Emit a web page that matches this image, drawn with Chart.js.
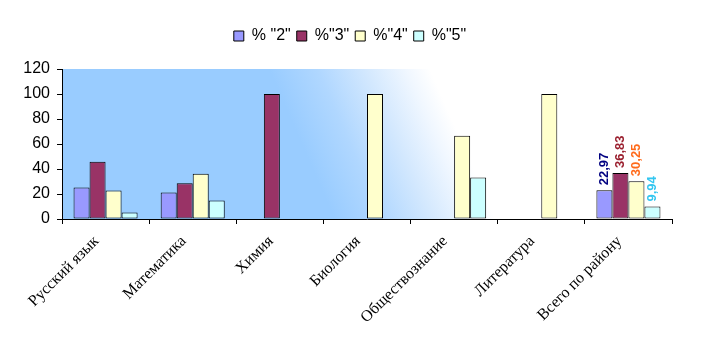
<!DOCTYPE html>
<html>
<head>
<meta charset="utf-8">
<script src="https://cdn.jsdelivr.net/npm/chart.js@4/dist/chart.umd.min.js"></script>
<style>
    html, body { margin: 0; padding: 0; background: #fff; }
    #wrap { width: 714px; height: 353px; }
</style>
</head>
<body>
<div id="wrap"><canvas id="grades_chart"></canvas></div>
<script>
// Предметы (категории)
const subjects = ["Русский язык", "Математика", "Химия", "Биология", "Обществознание", "Литература", "Всего по району"];
// Доли оценок, %
const grade2 = [25.2, 21.2, 0, 0, 0, 0, 22.97];
const grade3 = [45.8, 28.6, 100, 0, 0, 0, 36.83];
const grade4 = [22.8, 36.2, 0, 100, 66.7, 100, 30.25];
const grade5 = [5.3, 14.8, 0, 0, 33.3, 0, 9.94];
// подписи над столбцами последней категории
const totalLabels = ["22,97", "36,83", "30,25", "9,94"];
const yTicks = [0, 20, 40, 60, 80, 100, 120];

// фон области построения (градиент)
const plotBackground = {
    id: "plotBackground",
    beforeDraw(chart) {
        const { ctx, chartArea: a } = chart;
        const g = ctx.createLinearGradient(200, -89, 335, -148);
        g.addColorStop(0, "rgb(153,204,255)");
        g.addColorStop(0.3, "rgb(176,215,255)");
        g.addColorStop(0.6, "rgb(211,232,254)");
        g.addColorStop(0.85, "rgb(240,247,255)");
        g.addColorStop(1, "rgb(255,255,255)");
        ctx.save();
        ctx.fillStyle = g;
        ctx.fillRect(a.left, a.top, a.right - a.left, a.bottom - a.top);
        ctx.restore();
    },
};

// подписи значений (только "Всего по району")
const totalValues = {
    id: "totalValues",
    afterDatasetsDraw(chart) {
        const ctx = chart.ctx;
        const last = subjects.length - 1;
        ctx.save();
        ctx.font = "bold 13px 'Liberation Sans', Arial, sans-serif";
        ctx.textAlign = "left";
        ctx.textBaseline = "middle";
        chart.data.datasets.forEach((ds, i) => {
            const bar = chart.getDatasetMeta(i).data[last];
            ctx.save();
            ctx.translate(bar.x, bar.y - 5);
            ctx.rotate(-Math.PI / 2);
            ctx.fillStyle = ds.labelColor;
            ctx.fillText(totalLabels[i], 0, 0);
            ctx.restore();
        });
        ctx.restore();
    },
};

// отступ под легендой и сдвиг легенды вправо
const legendSpace = {
    id: "legendSpace",
    beforeInit(chart) {
        const fit = chart.legend.fit;
        chart.legend.fit = function () {
            fit.bind(chart.legend)();
            this.height += 15;
        };
        const draw = chart.legend.draw;
        chart.legend.draw = function () {
            chart.ctx.save();
            chart.ctx.translate(14, 0);
            draw.call(chart.legend);
            chart.ctx.restore();
        };
    },
};

var ctxGrades = document.getElementById("grades_chart").getContext("2d");
var gradesChart = new Chart(ctxGrades, {
    type: "bar",
    data: {
        labels: subjects,
        datasets: [
            { label: '% "2"', data: grade2, backgroundColor: "#9999FF", labelColor: "#000080" },
            { label: '%"3"', data: grade3, backgroundColor: "#993366", labelColor: "#9A1F2E" },
            { label: '%"4"', data: grade4, backgroundColor: "#FFFFCC", labelColor: "#FF6A1A" },
            { label: '%"5"', data: grade5, backgroundColor: "#CCFFFF", labelColor: "#33C6F0" },
        ],
    },
    options: {
        responsive: true,
        maintainAspectRatio: false,
        animation: false,
        layout: { padding: { top: 22, right: 42, left: 0, bottom: 0 } },
        datasets: {
            bar: {
                borderColor: "#000",
                borderWidth: 1,
                borderSkipped: false,
                barPercentage: 1,
                categoryPercentage: 0.735,
            },
        },
        plugins: {
            legend: {
                position: "top",
                labels: {
                    boxWidth: 10,
                    boxHeight: 10,
                    padding: 6,
                    color: "#000",
                    font: { family: "'Liberation Sans', Arial", size: 16 },
                },
            },
            tooltip: { enabled: false },
        },
        scales: {
            x: {
                grid: { drawOnChartArea: false, color: "#000", tickLength: 5 },
                border: { color: "#000" },
                ticks: {
                    color: "#000",
                    minRotation: 45,
                    maxRotation: 45,
                    labelOffset: -9,
                    padding: 8,
                    font: { family: "'Liberation Serif', 'Times New Roman', serif", size: 16 },
                },
                afterFit: (s) => { s.height = 134; },
            },
            y: {
                min: 0,
                max: 120,
                grid: { drawOnChartArea: false, color: "#000", tickLength: 5 },
                border: { color: "#000" },
                afterBuildTicks: (s) => { s.ticks = yTicks.map((v) => ({ value: v })); },
                ticks: {
                    color: "#000",
                    padding: 7,
                    font: { family: "'Liberation Sans', Arial", size: 16 },
                },
                afterFit: (s) => { s.width = 62; },
            },
        },
    },
    plugins: [plotBackground, totalValues, legendSpace],
});
</script>
</body>
</html>
